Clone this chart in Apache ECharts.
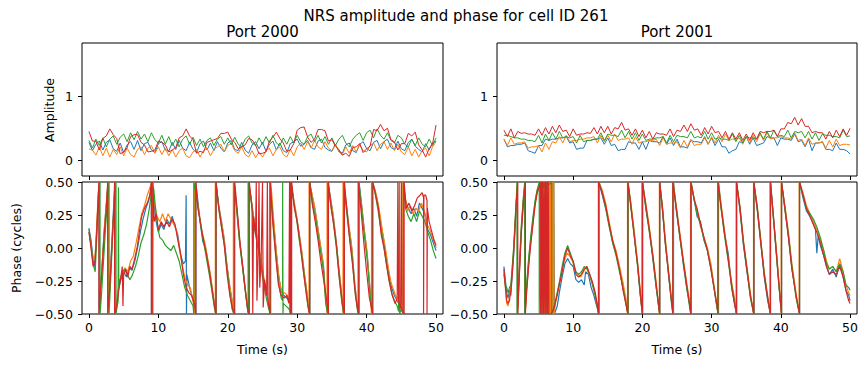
<!DOCTYPE html>
<html>
<head>
<meta charset="utf-8">
<script src="https://cdn.jsdelivr.net/npm/echarts@6/dist/echarts.min.js"></script>
<style>
html,body{margin:0;padding:0;background:#fff;}
#chart{width:868px;height:367px;}
</style>
</head>
<body>
<div id="chart"></div>
<script>
// ---------- labels ----------
const suptitle = 'NRS amplitude and phase for cell ID 261';
const portTitles = ['Port 2000', 'Port 2001'];
const seriesColors = ['#1f77b4', '#ff7f0e', '#2ca02c', '#d62728'];
const timeTicks = [0, 10, 20, 30, 40, 50];
const ampTicks = [0, 1];
const phaseTicks = [-0.5, -0.25, 0, 0.25, 0.5];
const AMP_DT = 0.5; // seconds between amplitude samples

// ---------- amplitude, Port 2000 (t = 0 .. 50 s, step 0.5) ----------
const amp2000Blue = [
 .28,.15,.25,.30,.16,.28,.32,.18,.14,.27,
 .12,.24,.29,.17,.31,.15,.26,.28,.16,.12,
 .26,.29,.16,.14,.28,.17,.31,.19,.15,.28,
 .17,.12,.26,.30,.16,.27,.15,.29,.19,.13,
 .27,.31,.17,.15,.28,.16,.11,.24,.29,.18,
 .28,.14,.25,.30,.16,.27,.15,.12,.26,.29,
 .33,.22,.25,.31,.20,.17,.30,.33,.20,.16,
 .14,.25,.14,.11,.24,.27,.15,.12,.25,.29,
 .18,.15,.28,.31,.18,.29,.33,.20,.17,.30,
 .18,.15,.28,.33,.22,.17,.13,.26,.16,.27,
 .30];
const amp2000Orange = [
 .18,.16,.08,.21,.07,.19,.05,.17,.09,.21,
 .07,.19,.09,.05,.17,.21,.09,.19,.23,.11,
 .21,.09,.19,.07,.17,.05,.15,.19,.07,.04,
 .13,.17,.05,.15,.19,.07,.17,.21,.25,.13,
 .23,.27,.15,.11,.21,.09,.05,.15,.04,.13,
 .05,.15,.19,.07,.17,.21,.09,.05,.17,.07,
 .21,.27,.17,.29,.19,.31,.21,.17,.29,.19,
 .15,.25,.13,.09,.21,.11,.23,.13,.25,.15,
 .13,.23,.27,.15,.25,.29,.17,.27,.15,.25,
 .13,.09,.21,.07,.17,.05,.15,.19,.07,.21,
 .29];
const amp2000Green = [
 .31,.19,.33,.23,.35,.21,.33,.38,.25,.36,
 .41,.29,.43,.32,.45,.33,.41,.29,.43,.32,
 .27,.39,.25,.37,.23,.33,.21,.33,.38,.25,
 .36,.23,.33,.21,.31,.35,.23,.33,.37,.25,
 .35,.24,.36,.25,.21,.33,.38,.27,.23,.35,
 .25,.37,.27,.39,.27,.23,.35,.25,.37,.27,
 .39,.29,.25,.37,.41,.29,.39,.27,.37,.25,
 .35,.23,.33,.39,.27,.21,.33,.39,.43,.31,
 .43,.47,.35,.49,.39,.33,.43,.31,.27,.39,
 .35,.25,.21,.33,.23,.35,.25,.21,.33,.23,
 .35];
const amp2000Red = [
 .45,.30,.30,.16,.34,.38,.49,.40,.34,.10,
 .13,.20,.37,.40,.40,.28,.24,.13,.14,.16,
 .30,.28,.24,.13,.16,.20,.35,.38,.49,.38,
 .32,.11,.14,.12,.28,.30,.32,.34,.42,.42,
 .44,.33,.28,.18,.21,.24,.34,.32,.24,.10,
 .11,.13,.30,.36,.44,.34,.27,.14,.16,.26,
 .47,.51,.52,.36,.28,.33,.48,.48,.46,.30,
 .32,.22,.17,.08,.11,.06,.20,.21,.26,.12,
 .18,.22,.48,.46,.56,.46,.50,.32,.29,.16,
 .26,.26,.42,.38,.44,.24,.16,.05,.18,.26,
 .55];

// ---------- amplitude, Port 2001 ----------
const amp2001Blue = [
 .33,.21,.23,.23,.25,.25,.27,.15,.13,.11,
 .23,.23,.33,.31,.33,.33,.35,.35,.37,.27,
 .29,.17,.19,.19,.31,.31,.33,.33,.35,.25,
 .35,.23,.25,.15,.17,.17,.29,.27,.27,.17,
 .29,.17,.31,.29,.29,.27,.37,.25,.35,.23,
 .33,.21,.21,.19,.31,.29,.29,.27,.37,.25,
 .35,.23,.33,.21,.21,.11,.15,.17,.29,.27,
 .37,.25,.35,.23,.25,.27,.37,.35,.35,.23,
 .35,.33,.33,.31,.41,.29,.31,.21,.33,.15,
 .27,.27,.29,.17,.17,.15,.27,.17,.17,.15,
 .10];
const amp2001Orange = [
 .33,.23,.35,.25,.27,.27,.29,.19,.21,.21,
 .23,.13,.27,.17,.29,.27,.37,.27,.39,.29,
 .31,.31,.33,.33,.35,.35,.37,.27,.39,.29,
 .39,.29,.41,.31,.33,.33,.35,.25,.37,.27,
 .29,.29,.31,.31,.33,.23,.35,.25,.27,.27,
 .29,.19,.31,.21,.33,.23,.25,.25,.35,.25,
 .37,.27,.39,.29,.41,.31,.33,.33,.35,.25,
 .37,.27,.39,.29,.41,.31,.43,.33,.35,.35,
 .37,.35,.35,.33,.43,.31,.33,.23,.35,.25,
 .27,.27,.29,.19,.31,.21,.33,.23,.25,.25,
 .24];
const amp2001Green = [
 .39,.39,.37,.35,.35,.33,.33,.31,.31,.29,
 .39,.27,.41,.31,.43,.33,.45,.35,.37,.35,
 .37,.27,.39,.29,.31,.31,.33,.33,.43,.31,
 .41,.39,.39,.37,.47,.35,.45,.33,.43,.31,
 .41,.31,.33,.33,.35,.35,.37,.27,.39,.29,
 .39,.37,.37,.35,.45,.35,.37,.35,.45,.33,
 .43,.33,.35,.33,.33,.31,.41,.29,.39,.27,
 .37,.35,.35,.33,.43,.33,.45,.35,.47,.37,
 .39,.37,.47,.35,.45,.43,.45,.35,.45,.33,
 .43,.31,.41,.39,.39,.37,.37,.35,.47,.37,
 .38];
const amp2001Red = [
 .47,.37,.49,.35,.45,.42,.43,.41,.41,.39,
 .49,.39,.51,.41,.53,.43,.55,.45,.47,.37,
 .49,.39,.41,.41,.43,.42,.51,.41,.53,.43,
 .53,.41,.51,.49,.59,.47,.49,.39,.49,.37,
 .47,.35,.45,.33,.43,.41,.41,.39,.49,.37,
 .47,.45,.55,.45,.57,.47,.49,.39,.51,.41,
 .53,.43,.45,.35,.45,.33,.43,.33,.43,.31,
 .41,.31,.43,.33,.45,.43,.45,.45,.47,.37,
 .49,.49,.59,.57,.67,.55,.65,.53,.53,.43,
 .45,.43,.43,.33,.45,.35,.47,.37,.49,.39,
 .50];

// ---------- phase, Port 2000 ([time s, cycles]) ----------
const ph2000Blue = [[0,0.15],[0.3,0.06],[0.6,-0.08],[0.8,-0.14],[1.0,0.02],[1.2,0.22],[1.4,0.46],[1.45,0.5],[1.45,-0.5],[1.6,-0.38],[1.9,-0.12],[2.2,0.14],[2.5,0.33],[2.75,0.5],[2.75,-0.5],[3.0,-0.28],[3.3,0.05],[3.6,0.36],[3.75,0.5],[3.75,-0.5],[4.0,-0.42],[4.3,-0.3],[4.6,-0.24],[5.0,-0.18],[5.4,-0.22],[5.8,-0.15],[6.2,-0.17],[6.6,-0.1],[7.0,0.0],[7.4,0.12],[7.8,0.22],[8.2,0.3],[8.6,0.36],[8.9,0.44],[9.0,0.5],[9.0,-0.5],[9.1,-0.45],[9.1,0.5],[9.3,0.4],[9.6,0.22],[10.0,0.12],[10.4,0.18],[10.8,0.14],[11.2,0.22],[11.6,0.18],[12.0,0.24],[12.4,0.16],[12.8,0.1],[13.2,-0.05],[13.6,-0.12],[13.9,-0.1],[14.0,0.4],[14.05,-0.5],[14.1,-0.2],[14.5,-0.3],[14.9,-0.38],[15.3,-0.46],[15.4,-0.5],[15.4,0.5],[15.7,0.35],[16.0,0.2],[16.4,0.05],[16.8,0.0],[17.2,-0.12],[17.6,-0.25],[18.0,-0.4],[18.3,-0.5],[18.3,0.5],[18.7,0.32],[19.1,0.2],[19.5,0.06],[19.9,-0.14],[20.3,-0.3],[20.7,-0.42],[20.9,-0.5],[20.9,0.5],[21.3,0.3],[21.7,0.06],[22.1,-0.12],[22.5,-0.3],[22.8,-0.45],[23.0,-0.5],[23.0,0.5],[23.4,0.36],[23.8,0.2],[24.2,0.08],[24.6,-0.05],[25.0,-0.18],[25.4,-0.3],[25.8,-0.4],[26.1,-0.5],[26.1,0.5],[26.5,0.25],[26.9,0.02],[27.3,-0.2],[27.7,-0.33],[28.1,-0.36],[28.5,-0.38],[28.9,-0.4],[29.1,-0.5],[29.1,0.5],[29.5,0.36],[29.9,0.24],[30.3,0.1],[30.7,-0.05],[31.1,-0.22],[31.5,-0.38],[31.8,-0.5],[31.8,0.5],[32.2,0.38],[32.6,0.28],[33.0,0.14],[33.4,0.0],[33.8,-0.14],[34.1,-0.38],[34.4,-0.5],[34.4,0.5],[34.8,0.38],[35.2,0.24],[35.6,0.06],[36.0,-0.16],[36.4,-0.36],[36.7,-0.5],[36.7,0.5],[37.1,0.32],[37.5,0.14],[37.9,-0.02],[38.3,-0.28],[38.7,-0.46],[38.9,-0.5],[38.9,0.5],[39.3,0.32],[39.7,0.12],[40.1,-0.06],[40.5,-0.32],[40.8,-0.5],[40.8,0.5],[41.2,0.44],[41.6,0.34],[42.0,0.2],[42.4,0.08],[42.8,-0.06],[43.2,-0.2],[43.6,-0.3],[44.0,-0.36],[44.4,-0.4],[44.8,-0.44],[45.2,-0.48],[45.3,-0.5],[45.3,0.5],[45.6,0.36],[46.0,0.3],[46.4,0.26],[46.8,0.3],[47.2,0.24],[47.6,0.34],[48.0,0.3],[48.4,0.26],[48.8,0.14],[49.2,0.1],[49.6,0.04],[50,-0.02]];
const ph2000Orange = [[0,0.12],[0.3,0.02],[0.6,-0.1],[0.9,-0.05],[1.1,0.15],[1.3,0.38],[1.5,0.5],[1.5,-0.5],[1.7,-0.3],[2.0,-0.05],[2.3,0.2],[2.6,0.4],[2.8,0.5],[2.8,-0.5],[3.1,-0.2],[3.4,0.12],[3.7,0.42],[3.8,0.5],[3.8,-0.5],[4.1,-0.35],[4.4,-0.25],[4.8,-0.2],[5.2,-0.15],[5.6,-0.18],[6.0,-0.1],[6.4,-0.06],[6.8,0.04],[7.2,0.15],[7.6,0.26],[8.0,0.32],[8.4,0.4],[8.8,0.46],[9.1,0.5],[9.1,-0.5],[9.2,-0.5],[9.2,0.5],[9.4,0.34],[9.8,0.24],[10.2,0.2],[10.6,0.26],[11.0,0.2],[11.4,0.26],[11.8,0.22],[12.2,0.18],[12.6,0.14],[13.0,0.0],[13.4,-0.12],[13.8,-0.22],[14.2,-0.28],[14.6,-0.3],[15.0,-0.4],[15.2,-0.5],[15.2,0.5],[15.5,0.4],[15.9,0.26],[16.3,0.12],[16.7,0.04],[17.1,-0.08],[17.5,-0.2],[17.9,-0.36],[18.2,-0.5],[18.2,0.5],[18.6,0.36],[19.0,0.22],[19.4,0.1],[19.8,-0.1],[20.2,-0.26],[20.6,-0.4],[20.8,-0.5],[20.8,0.5],[21.2,0.34],[21.6,0.1],[22.0,-0.08],[22.4,-0.26],[22.8,-0.42],[22.9,-0.5],[22.9,0.5],[23.3,0.4],[23.7,0.24],[24.1,0.12],[24.5,0.0],[24.9,-0.12],[25.3,-0.26],[25.7,-0.36],[26.0,-0.46],[26.2,-0.5],[26.2,0.5],[26.6,0.22],[27.0,-0.04],[27.4,-0.24],[27.8,-0.34],[28.2,-0.34],[28.6,-0.36],[28.9,-0.42],[29.0,-0.5],[29.0,0.5],[29.4,0.4],[29.8,0.28],[30.2,0.14],[30.6,0.0],[31.0,-0.18],[31.4,-0.34],[31.7,-0.5],[31.7,0.5],[32.1,0.42],[32.5,0.32],[32.9,0.18],[33.3,0.04],[33.7,-0.1],[34.0,-0.32],[34.3,-0.5],[34.3,0.5],[34.7,0.4],[35.1,0.28],[35.5,0.1],[35.9,-0.1],[36.3,-0.3],[36.6,-0.5],[36.6,0.5],[37.0,0.36],[37.4,0.18],[37.8,0.04],[38.2,-0.22],[38.6,-0.42],[38.8,-0.5],[38.8,0.5],[39.2,0.36],[39.6,0.16],[40.0,0.0],[40.4,-0.26],[40.7,-0.5],[40.7,0.5],[41.1,0.46],[41.5,0.38],[41.9,0.26],[42.3,0.12],[42.7,0.0],[43.1,-0.14],[43.5,-0.26],[43.9,-0.32],[44.3,-0.38],[44.7,-0.42],[45.1,-0.46],[45.2,-0.5],[45.2,0.5],[45.5,0.4],[45.9,0.28],[46.3,0.32],[46.7,0.26],[47.1,0.3],[47.5,0.28],[47.9,0.34],[48.3,0.28],[48.7,0.18],[49.1,0.14],[49.5,0.08],[49.8,0.04],[50,0.0]];
const ph2000Green = [[0,0.14],[0.3,0.02],[0.6,-0.12],[0.9,-0.18],[1.1,0.05],[1.3,0.3],[1.5,0.46],[1.6,0.5],[1.6,-0.5],[1.8,-0.36],[2.1,-0.1],[2.4,0.16],[2.7,0.38],[2.9,0.5],[2.9,-0.5],[3.2,-0.16],[3.5,0.2],[3.8,0.42],[3.9,0.5],[3.9,-0.5],[4.2,-0.4],[4.25,0.46],[4.3,-0.28],[4.7,-0.2],[5.1,-0.16],[5.5,-0.2],[5.9,-0.24],[6.3,-0.2],[6.7,-0.14],[7.1,-0.06],[7.5,0.04],[7.9,0.1],[8.3,0.18],[8.7,0.3],[9.0,0.42],[9.3,0.46],[9.6,0.3],[9.9,0.16],[10.2,0.08],[10.6,0.06],[11.0,0.02],[11.4,0.0],[11.8,-0.02],[12.2,0.02],[12.6,-0.04],[13.0,-0.1],[13.4,-0.2],[13.8,-0.3],[14.2,-0.36],[14.6,-0.4],[15.0,-0.44],[15.1,-0.5],[15.1,0.5],[15.4,0.42],[15.8,0.28],[16.2,0.14],[16.6,0.02],[17.0,-0.1],[17.4,-0.22],[17.8,-0.36],[18.1,-0.46],[18.3,-0.5],[18.3,0.5],[18.7,0.3],[19.1,0.16],[19.5,0.02],[19.9,-0.16],[20.3,-0.34],[20.6,-0.46],[20.9,-0.5],[20.9,0.5],[21.3,0.28],[21.7,0.04],[22.1,-0.14],[22.5,-0.32],[22.9,-0.46],[23.0,-0.5],[23.0,0.5],[23.4,0.34],[23.8,0.16],[24.2,0.04],[24.6,-0.08],[25.0,-0.22],[25.4,-0.34],[25.8,-0.44],[26.1,-0.5],[26.1,0.5],[26.5,0.2],[26.9,-0.04],[27.3,-0.26],[27.7,-0.38],[27.9,-0.4],[27.9,0.5],[27.95,-0.5],[28.0,-0.42],[28.4,-0.44],[28.8,-0.46],[29.1,-0.5],[29.1,0.5],[29.5,0.34],[29.9,0.22],[30.3,0.06],[30.7,-0.08],[31.1,-0.26],[31.5,-0.42],[31.8,-0.5],[31.8,0.5],[32.2,0.34],[32.6,0.24],[33.0,0.1],[33.4,-0.04],[33.8,-0.18],[34.1,-0.42],[34.4,-0.5],[34.4,0.5],[34.8,0.34],[35.2,0.2],[35.6,0.02],[36.0,-0.2],[36.4,-0.4],[36.7,-0.5],[36.7,0.5],[37.1,0.28],[37.5,0.1],[37.9,-0.06],[38.3,-0.32],[38.7,-0.48],[38.9,-0.5],[38.9,0.5],[39.3,0.28],[39.7,0.08],[40.1,-0.1],[40.5,-0.36],[40.8,-0.5],[40.8,0.5],[41.2,0.42],[41.6,0.3],[42.0,0.16],[42.4,0.04],[42.8,-0.1],[43.2,-0.24],[43.6,-0.34],[44.0,-0.4],[44.4,-0.44],[44.6,-0.48],[44.7,0.5],[44.75,-0.5],[45.0,-0.46],[45.3,-0.5],[45.3,0.5],[45.6,0.3],[46.0,0.24],[46.4,0.2],[46.8,0.26],[47.2,0.2],[47.6,0.28],[48.0,0.24],[48.4,0.2],[48.8,0.12],[49.2,0.06],[49.6,-0.02],[50,-0.08]];
const ph2000Red = [[0,0.12],[0.3,0.0],[0.6,-0.14],[0.9,-0.1],[1.1,0.1],[1.3,0.34],[1.45,0.5],[1.45,-0.5],[1.6,-0.36],[1.9,-0.16],[2.2,0.1],[2.5,0.3],[2.7,0.5],[2.7,-0.5],[3.0,-0.3],[3.3,0.0],[3.6,0.3],[3.7,0.5],[3.7,-0.5],[4.0,-0.44],[4.3,-0.32],[4.6,-0.22],[4.8,-0.14],[4.9,-0.44],[5.0,-0.2],[5.3,-0.16],[5.6,-0.22],[5.9,-0.14],[6.2,-0.16],[6.6,-0.08],[7.0,0.02],[7.3,0.14],[7.6,0.24],[8.0,0.3],[8.4,0.34],[8.8,0.4],[9.0,0.5],[9.0,-0.5],[9.2,-0.5],[9.2,0.5],[9.4,0.2],[9.7,0.26],[10.0,0.14],[10.4,0.2],[10.8,0.16],[11.2,0.2],[11.6,0.16],[12.0,0.22],[12.4,0.18],[12.8,0.06],[13.2,-0.04],[13.6,-0.2],[14.0,-0.3],[14.4,-0.34],[14.8,-0.36],[15.2,-0.42],[15.4,-0.5],[15.4,0.5],[15.7,0.3],[16.1,0.18],[16.5,0.06],[16.9,-0.04],[17.3,-0.16],[17.7,-0.3],[18.1,-0.44],[18.3,-0.5],[18.3,0.5],[18.7,0.3],[19.1,0.16],[19.5,0.02],[19.9,-0.2],[20.3,-0.36],[20.7,-0.46],[21.0,-0.5],[21.0,0.5],[21.4,0.26],[21.8,0.02],[22.2,-0.16],[22.6,-0.36],[22.9,-0.48],[23.1,-0.5],[23.1,0.5],[23.5,0.3],[23.6,-0.5],[23.7,0.24],[24.0,0.1],[24.1,0.5],[24.2,-0.4],[24.4,0.02],[24.5,0.5],[24.6,-0.3],[24.8,-0.1],[25.0,0.5],[25.1,-0.45],[25.3,-0.24],[25.6,-0.36],[25.7,0.5],[25.8,-0.4],[26.1,-0.5],[26.1,0.5],[26.5,0.18],[26.9,-0.06],[27.3,-0.28],[27.7,-0.36],[28.1,-0.38],[28.5,-0.36],[28.8,-0.42],[28.9,0.5],[29.0,-0.5],[29.1,0.5],[29.2,-0.5],[29.2,0.5],[29.6,0.3],[30.0,0.2],[30.4,0.04],[30.8,-0.14],[31.2,-0.3],[31.6,-0.46],[31.8,-0.5],[31.8,0.5],[32.2,0.32],[32.6,0.2],[33.0,0.06],[33.4,-0.1],[33.8,-0.24],[34.1,-0.34],[34.5,-0.5],[34.5,0.5],[34.9,0.3],[35.3,0.16],[35.7,0.0],[36.1,-0.24],[36.5,-0.42],[36.8,-0.5],[36.8,0.5],[37.2,0.26],[37.6,0.04],[38.0,-0.14],[38.4,-0.36],[38.8,-0.5],[38.8,0.5],[39.2,0.28],[39.6,0.04],[40.0,-0.18],[40.4,-0.38],[40.9,-0.5],[40.9,0.5],[41.3,0.4],[41.7,0.3],[42.1,0.1],[42.5,0.0],[42.9,-0.14],[43.3,-0.26],[43.7,-0.36],[44.1,-0.42],[44.4,-0.38],[44.5,0.5],[44.6,-0.4],[44.9,-0.46],[45.0,0.5],[45.1,-0.48],[45.4,-0.5],[45.4,0.5],[45.7,0.3],[46.1,0.34],[46.5,0.28],[46.9,0.32],[47.3,0.38],[47.7,0.4],[48.0,0.42],[48.2,0.38],[48.2,-0.5],[48.25,0.4],[48.5,0.4],[48.7,0.36],[48.7,-0.5],[48.75,0.3],[49.0,0.2],[49.4,0.12],[49.7,0.06],[50,0.02]];

// ---------- phase, Port 2001 ----------
const ph2001Blue = [[0,-0.14],[0.2,-0.24],[0.4,-0.34],[0.6,-0.38],[0.8,-0.32],[1.0,-0.36],[1.2,-0.2],[1.4,-0.06],[1.6,0.14],[1.8,0.34],[1.95,0.5],[1.95,-0.5],[2.2,-0.22],[2.5,0.12],[2.8,0.34],[3.05,0.5],[3.05,-0.5],[3.3,-0.3],[3.6,-0.1],[3.9,0.06],[4.2,0.2],[4.5,0.34],[4.8,0.42],[5.1,0.46],[5.4,0.5],[5.7,0.46],[6.0,0.5],[6.0,-0.5],[6.1,-0.5],[6.1,0.5],[6.2,0.5],[6.2,-0.5],[6.3,-0.5],[6.3,0.5],[6.5,0.5],[6.5,-0.5],[6.6,-0.5],[6.6,0.5],[6.8,0.5],[6.8,-0.5],[6.9,-0.5],[6.9,0.5],[7.1,0.5],[7.1,-0.5],[7.2,-0.5],[7.2,0.5],[7.3,0.5],[7.3,-0.5],[7.4,-0.5],[7.7,-0.44],[8.0,-0.34],[8.4,-0.22],[8.8,-0.12],[9.2,-0.08],[9.6,-0.12],[10.0,-0.14],[10.4,-0.24],[10.8,-0.26],[11.2,-0.24],[11.6,-0.28],[11.8,-0.18],[12.2,-0.2],[12.6,-0.3],[13.0,-0.36],[13.4,-0.44],[13.7,-0.5],[13.7,0.5],[14.2,0.4],[14.7,0.3],[15.2,0.18],[15.7,0.04],[16.2,-0.04],[16.7,-0.16],[17.2,-0.3],[17.6,-0.4],[17.9,-0.5],[17.9,0.5],[18.3,0.34],[18.8,0.12],[19.3,-0.12],[19.7,-0.36],[20.0,-0.5],[20.0,0.5],[20.5,0.3],[21.0,0.14],[21.5,-0.08],[22.0,-0.3],[22.5,-0.5],[22.5,0.5],[22.9,0.28],[23.3,0.06],[23.8,-0.22],[24.2,-0.4],[24.5,-0.5],[24.5,0.5],[24.9,0.28],[25.4,0.1],[25.9,-0.12],[26.4,-0.3],[26.8,-0.42],[27.0,-0.5],[27.0,0.5],[27.5,0.36],[27.9,0.24],[28.4,0.2],[28.9,0.06],[29.4,-0.02],[29.9,-0.14],[30.4,-0.32],[30.8,-0.46],[31.0,-0.5],[31.0,0.5],[31.4,0.3],[31.9,0.1],[32.4,-0.04],[32.9,-0.3],[33.3,-0.42],[33.6,-0.5],[33.6,0.5],[34.1,0.28],[34.6,0.02],[35.1,-0.18],[35.6,-0.36],[36.1,-0.5],[36.1,0.5],[36.6,0.28],[37.1,0.04],[37.6,-0.22],[38.1,-0.4],[38.5,-0.5],[38.5,0.5],[38.9,0.26],[39.3,0.0],[39.7,-0.26],[40.1,-0.5],[40.1,0.5],[40.6,0.3],[41.1,0.08],[41.6,-0.16],[42.2,-0.36],[42.7,-0.5],[42.7,0.5],[43.2,0.38],[43.7,0.28],[44.2,0.24],[44.7,0.18],[45.0,0.14],[45.2,-0.04],[45.4,0.1],[45.7,0.02],[46.2,-0.06],[46.6,-0.14],[47.0,-0.2],[47.5,-0.16],[48.0,-0.22],[48.5,-0.12],[49.0,-0.22],[49.4,-0.32],[49.8,-0.36],[50,-0.4]];
const ph2001Orange = [[0,-0.18],[0.2,-0.3],[0.4,-0.42],[0.6,-0.44],[0.8,-0.36],[1.0,-0.3],[1.2,-0.16],[1.4,-0.02],[1.6,0.16],[1.8,0.36],[1.95,0.5],[1.95,-0.5],[2.2,-0.2],[2.5,0.14],[2.8,0.36],[3.05,0.5],[3.05,-0.5],[3.3,-0.28],[3.6,-0.08],[3.9,0.08],[4.2,0.22],[4.5,0.34],[4.8,0.44],[5.1,0.48],[5.4,0.46],[5.7,0.5],[5.9,0.5],[5.9,-0.5],[6.0,-0.5],[6.0,0.5],[6.1,0.5],[6.1,-0.5],[6.2,-0.5],[6.2,0.5],[6.3,0.5],[6.3,-0.5],[6.4,-0.5],[6.4,0.5],[6.5,0.5],[6.5,-0.5],[6.6,-0.5],[6.6,0.5],[6.7,0.5],[6.7,-0.5],[6.8,-0.5],[6.8,0.5],[6.9,0.5],[6.9,-0.5],[7.0,-0.5],[7.0,0.5],[7.1,0.5],[7.1,-0.5],[7.2,-0.5],[7.2,0.5],[7.25,0.5],[7.25,-0.5],[7.5,-0.4],[7.9,-0.3],[8.3,-0.2],[8.7,-0.1],[9.1,-0.04],[9.5,-0.06],[9.9,-0.1],[10.3,-0.18],[10.7,-0.2],[11.1,-0.22],[11.5,-0.18],[11.9,-0.14],[12.3,-0.2],[12.7,-0.26],[13.1,-0.34],[13.5,-0.44],[13.7,-0.5],[13.7,0.5],[14.2,0.44],[14.7,0.34],[15.2,0.2],[15.7,0.06],[16.2,-0.02],[16.7,-0.14],[17.2,-0.26],[17.6,-0.38],[17.85,-0.5],[17.85,0.5],[18.3,0.36],[18.8,0.14],[19.3,-0.1],[19.7,-0.32],[19.95,-0.5],[19.95,0.5],[20.5,0.34],[21.0,0.16],[21.5,-0.04],[22.0,-0.26],[22.45,-0.5],[22.45,0.5],[22.9,0.32],[23.3,0.08],[23.8,-0.18],[24.2,-0.38],[24.45,-0.5],[24.45,0.5],[24.9,0.32],[25.4,0.12],[25.9,-0.08],[26.4,-0.26],[26.8,-0.4],[26.95,-0.5],[26.95,0.5],[27.4,0.4],[27.9,0.28],[28.4,0.16],[28.9,0.08],[29.4,0.0],[29.9,-0.12],[30.4,-0.3],[30.8,-0.44],[30.95,-0.5],[30.95,0.5],[31.4,0.32],[31.9,0.12],[32.4,-0.08],[32.9,-0.26],[33.3,-0.38],[33.55,-0.5],[33.55,0.5],[34.1,0.32],[34.6,0.06],[35.1,-0.14],[35.6,-0.34],[36.05,-0.5],[36.05,0.5],[36.6,0.32],[37.1,0.06],[37.6,-0.18],[38.1,-0.36],[38.45,-0.5],[38.45,0.5],[38.9,0.24],[39.3,0.02],[39.7,-0.24],[40.05,-0.5],[40.05,0.5],[40.6,0.32],[41.1,0.12],[41.6,-0.12],[42.2,-0.34],[42.65,-0.5],[42.65,0.5],[43.2,0.42],[43.7,0.32],[44.2,0.26],[44.7,0.2],[45.2,0.14],[45.7,0.06],[46.2,-0.02],[46.6,-0.1],[47.0,-0.16],[47.5,-0.14],[48.0,-0.18],[48.5,-0.08],[49.0,-0.18],[49.4,-0.28],[49.8,-0.34],[50,-0.36]];
const ph2001Green = [[0,-0.2],[0.2,-0.28],[0.4,-0.3],[0.6,-0.34],[0.8,-0.3],[1.0,-0.28],[1.2,-0.14],[1.4,0.0],[1.6,0.2],[1.8,0.38],[1.9,0.5],[1.9,-0.5],[2.2,-0.18],[2.5,0.16],[2.8,0.38],[3.0,0.5],[3.0,-0.5],[3.3,-0.26],[3.6,-0.06],[3.9,0.1],[4.2,0.24],[4.5,0.36],[4.8,0.44],[5.1,0.5],[5.1,-0.5],[5.2,-0.5],[5.2,0.5],[5.3,0.5],[5.3,-0.5],[5.4,-0.5],[5.4,0.5],[5.5,0.5],[5.5,-0.5],[5.6,-0.5],[5.6,0.5],[5.8,0.46],[6.1,0.5],[6.1,-0.5],[6.2,-0.5],[6.2,0.5],[6.5,0.48],[6.9,0.5],[6.9,-0.5],[7.2,-0.46],[7.6,-0.36],[8.0,-0.26],[8.4,-0.14],[8.8,-0.04],[9.2,0.02],[9.6,-0.04],[10.0,-0.1],[10.4,-0.18],[10.8,-0.2],[11.2,-0.18],[11.6,-0.14],[12.0,-0.16],[12.4,-0.2],[12.8,-0.28],[13.2,-0.36],[13.5,-0.44],[13.75,-0.5],[13.75,0.5],[14.2,0.42],[14.7,0.3],[15.2,0.16],[15.7,0.04],[16.2,-0.06],[16.7,-0.18],[17.2,-0.3],[17.6,-0.42],[17.95,-0.5],[17.95,0.5],[18.3,0.32],[18.8,0.1],[19.3,-0.14],[19.7,-0.36],[20.05,-0.5],[20.05,0.5],[20.5,0.3],[21.0,0.12],[21.5,-0.06],[22.0,-0.3],[22.5,-0.5],[22.5,0.5],[22.9,0.3],[23.3,0.04],[23.8,-0.2],[24.2,-0.42],[24.4,-0.5],[24.4,0.5],[24.9,0.3],[25.4,0.08],[25.9,-0.1],[26.4,-0.3],[26.8,-0.44],[27.05,-0.5],[27.05,0.5],[27.5,0.36],[27.9,0.26],[28.4,0.18],[28.9,0.06],[29.4,-0.02],[29.9,-0.16],[30.4,-0.32],[30.8,-0.46],[30.95,-0.5],[30.95,0.5],[31.4,0.28],[31.9,0.08],[32.4,-0.1],[32.9,-0.28],[33.3,-0.4],[33.6,-0.5],[33.6,0.5],[34.1,0.3],[34.6,0.04],[35.1,-0.16],[35.6,-0.38],[36.1,-0.5],[36.1,0.5],[36.6,0.3],[37.1,0.06],[37.6,-0.2],[38.1,-0.38],[38.5,-0.5],[38.5,0.5],[38.9,0.24],[39.3,-0.02],[39.7,-0.28],[40.1,-0.5],[40.1,0.5],[40.6,0.28],[41.1,0.1],[41.6,-0.14],[42.2,-0.38],[42.7,-0.5],[42.7,0.5],[43.2,0.4],[43.7,0.3],[44.2,0.26],[44.7,0.22],[45.2,0.16],[45.7,0.08],[46.2,-0.02],[46.6,-0.12],[47.0,-0.16],[47.5,-0.14],[48.0,-0.18],[48.5,-0.12],[49.0,-0.18],[49.4,-0.28],[49.8,-0.3],[50,-0.32]];
const ph2001Red = [[0,-0.16],[0.2,-0.28],[0.4,-0.4],[0.6,-0.42],[0.8,-0.4],[1.0,-0.32],[1.2,-0.2],[1.4,-0.04],[1.6,0.16],[1.8,0.36],[2.0,0.5],[2.0,-0.5],[2.2,-0.24],[2.5,0.1],[2.8,0.34],[3.1,0.5],[3.1,-0.5],[3.3,-0.32],[3.6,-0.12],[3.9,0.04],[4.2,0.18],[4.5,0.32],[4.8,0.42],[5.1,0.46],[5.3,0.5],[5.3,-0.5],[5.4,-0.5],[5.4,0.5],[5.5,0.5],[5.5,-0.5],[5.6,-0.5],[5.6,0.5],[5.7,0.5],[5.7,-0.5],[5.8,-0.5],[5.8,0.5],[5.9,0.5],[5.9,-0.5],[6.0,-0.5],[6.0,0.5],[6.1,0.5],[6.1,-0.5],[6.2,-0.5],[6.2,0.5],[6.3,0.5],[6.3,-0.5],[6.4,-0.5],[6.4,0.5],[6.5,0.5],[6.5,-0.5],[6.8,-0.5],[7.2,-0.46],[7.6,-0.38],[8.0,-0.28],[8.4,-0.18],[8.8,-0.06],[9.2,0.0],[9.6,-0.06],[10.0,-0.1],[10.4,-0.2],[10.8,-0.22],[11.2,-0.2],[11.6,-0.16],[12.0,-0.14],[12.4,-0.2],[12.8,-0.26],[13.2,-0.34],[13.5,-0.44],[13.65,-0.5],[13.65,0.5],[14.2,0.42],[14.7,0.32],[15.2,0.18],[15.7,0.06],[16.2,-0.04],[16.7,-0.16],[17.2,-0.32],[17.6,-0.42],[17.9,-0.5],[17.9,0.5],[18.3,0.34],[18.8,0.1],[19.3,-0.12],[19.7,-0.34],[20.0,-0.5],[20.0,0.5],[20.5,0.32],[21.0,0.14],[21.5,-0.06],[22.0,-0.28],[22.5,-0.5],[22.5,0.5],[22.9,0.3],[23.3,0.04],[23.8,-0.2],[24.2,-0.4],[24.4,-0.5],[24.4,0.5],[24.9,0.3],[25.4,0.1],[25.9,-0.1],[26.4,-0.28],[26.8,-0.42],[27.0,-0.5],[27.0,0.5],[27.5,0.36],[27.9,0.3],[28.4,0.18],[28.9,0.08],[29.4,-0.02],[29.9,-0.16],[30.4,-0.32],[30.8,-0.44],[30.9,-0.5],[30.9,0.5],[31.4,0.3],[31.9,0.1],[32.4,-0.08],[32.9,-0.3],[33.3,-0.42],[33.6,-0.5],[33.6,0.5],[34.1,0.3],[34.6,0.04],[35.1,-0.16],[35.6,-0.36],[36.1,-0.5],[36.1,0.5],[36.6,0.3],[37.1,0.04],[37.6,-0.2],[38.1,-0.38],[38.5,-0.5],[38.5,0.5],[38.9,0.26],[39.3,0.0],[39.7,-0.26],[40.1,-0.5],[40.1,0.5],[40.6,0.3],[41.1,0.08],[41.6,-0.16],[42.2,-0.36],[42.7,-0.5],[42.7,0.5],[43.2,0.4],[43.7,0.3],[44.2,0.24],[44.7,0.18],[45.2,0.12],[45.7,0.04],[46.2,-0.06],[46.6,-0.14],[47.0,-0.2],[47.5,-0.18],[48.0,-0.2],[48.5,-0.14],[49.0,-0.22],[49.4,-0.32],[49.8,-0.4],[50,-0.42]];

// ---------- build chart ----------
const FONT = 'DejaVu Sans';
const panels = [
  {left: 82, top: 43, w: 361, h: 133},   // amp 2000
  {left: 497, top: 43, w: 360, h: 133},  // amp 2001
  {left: 82, top: 182, w: 361, h: 132},  // phase 2000
  {left: 497, top: 182, w: 360, h: 132}  // phase 2001
];
const ampSets = [
  [amp2000Blue, amp2000Orange, amp2000Green, amp2000Red],
  [amp2001Blue, amp2001Orange, amp2001Green, amp2001Red]
];
const phaseSets = [
  [ph2000Blue, ph2000Orange, ph2000Green, ph2000Red],
  [ph2001Blue, ph2001Orange, ph2001Green, ph2001Red]
];

const minus = s => s.replace('-', '\u2212');
const grids = panels.map(p => ({left: p.left, top: p.top, width: p.w, height: p.h,
  show: true, borderColor: '#000', borderWidth: 1, containLabel: false}));

const xAxes = panels.map((p, i) => ({
  type: 'value', gridIndex: i, min: -1, max: 51,
  splitLine: {show: false},
  axisLine: {show: false, onZero: false},
  axisTick: {show: true, length: 4, lineStyle: {color: '#000', width: 1}, customValues: timeTicks},
  axisLabel: {show: i >= 2, customValues: timeTicks, color: '#000', fontFamily: FONT, fontSize: 12.5, margin: 7}
}));
const yAxes = panels.map((p, i) => {
  const isAmp = i < 2;
  return {
    type: 'value', gridIndex: i,
    min: isAmp ? -0.245 : -0.5, max: isAmp ? 1.83 : 0.5,
    splitLine: {show: false},
    axisLine: {show: false, onZero: false},
    axisTick: {show: true, length: 4, lineStyle: {color: '#000', width: 1}, customValues: isAmp ? ampTicks : phaseTicks},
    axisLabel: {show: true, customValues: isAmp ? ampTicks : phaseTicks, color: '#000', fontFamily: FONT, fontSize: 12.5, margin: 9,
      formatter: v => isAmp ? String(Math.round(v)) : minus(Number(v).toFixed(2))}
  };
});

const series = [];
ampSets.forEach((set, pi) => {
  set.forEach((vals, si) => {
    series.push({type: 'line', xAxisIndex: pi, yAxisIndex: pi, showSymbol: false, symbol: 'none',
      animation: false, silent: true, clip: true,
      lineStyle: {color: seriesColors[si], width: 1},
      data: vals.map((v, k) => [k * AMP_DT, v])});
  });
});
phaseSets.forEach((set, pi) => {
  set.forEach((pts, si) => {
    series.push({type: 'line', xAxisIndex: pi + 2, yAxisIndex: pi + 2, showSymbol: false, symbol: 'none',
      animation: false, silent: true, clip: true,
      lineStyle: {color: seriesColors[si], width: 1.2},
      data: pts});
  });
});

const txt = (text, x, y, size, rot) => ({type: 'text', x: x, y: y, rotation: rot || 0, silent: true,
  style: {text: text, fill: '#000', font: size + 'px "' + FONT + '"', align: 'center', verticalAlign: 'middle'}});

const graphic = [
  txt(suptitle, 456, 16, 15),
  txt(portTitles[0], 262.5, 31.5, 15),
  txt(portTitles[1], 677, 31.5, 15),
  txt('Amplitude', 49.5, 110, 12.5, Math.PI / 2),
  txt('Phase (cycles)', 16, 248, 12.5, Math.PI / 2),
  txt('Time (s)', 262.5, 349.5, 12.5),
  txt('Time (s)', 677, 349.5, 12.5)
];

const chart = echarts.init(document.getElementById('chart'), null, {renderer: 'svg', width: 868, height: 367});
chart.setOption({
  animation: false,
  backgroundColor: '#fff',
  grid: grids,
  xAxis: xAxes,
  yAxis: yAxes,
  series: series,
  graphic: graphic
});
</script>
</body>
</html>
